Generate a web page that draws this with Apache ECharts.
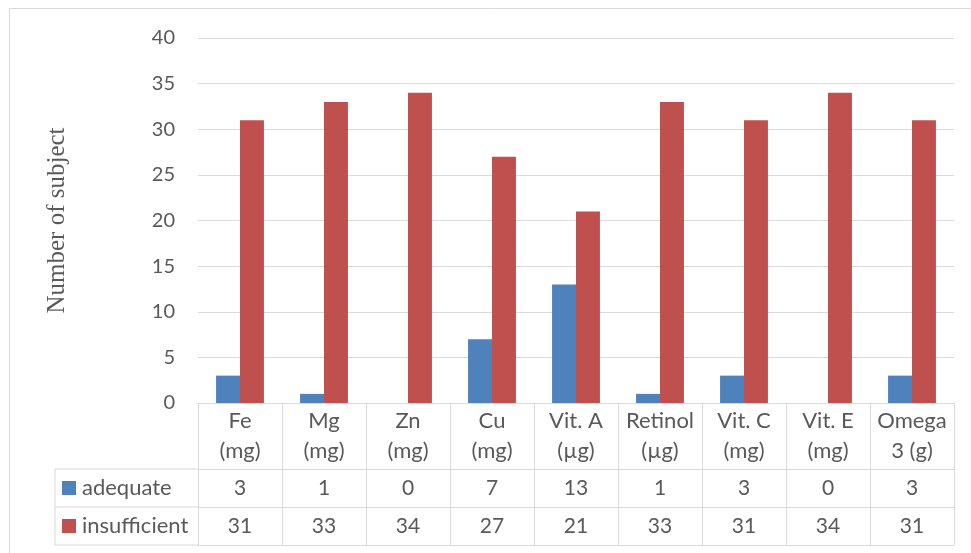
<!DOCTYPE html>
<html>
<head>
<meta charset="utf-8">
<script src="https://cdn.jsdelivr.net/npm/echarts@6/dist/echarts.min.js"></script>
<style>
html,body{margin:0;padding:0;background:#fff;}
#c{width:971px;height:553px;}
</style>
</head>
<body>
<div id="c"></div>
<script>
var categories = ['Fe\n(mg)', 'Mg\n(mg)', 'Zn\n(mg)', 'Cu\n(mg)', 'Vit. A\n(µg)', 'Retinol\n(µg)', 'Vit. C\n(mg)', 'Vit. E\n(mg)', 'Omega\n3 (g)'];
var adequate = [3, 1, 0, 7, 13, 1, 3, 0, 3];
var insufficient = [31, 33, 34, 27, 21, 33, 31, 34, 31];
var seriesNames = ['adequate', 'insufficient'];
var yTicks = { min: 0, max: 40, interval: 5 };
var yTitle = 'Number of subject';

var FONT = 'Lato, "Open Sans", sans-serif';
var TXT = '#595959';
var LINE = '#d9d9d9';
var BLUE = '#4f81bd';
var RED = '#c0504d';

var chart = echarts.init(document.getElementById('c'), null, { renderer: 'canvas' });

function tableAxis(offset, tickLen, labels, margin, showTicks, fs) {
  return {
    type: 'category',
    position: 'bottom',
    offset: offset,
    data: categories,
    axisLine: { show: true, lineStyle: { color: LINE, width: 1 } },
    axisTick: { show: showTicks, interval: 0, length: tickLen, alignWithLabel: false, lineStyle: { color: LINE, width: 1 } },
    axisLabel: labels ? {
      show: true, interval: 0, margin: margin, verticalAlign: 'middle',
      fontFamily: FONT, fontSize: fs, lineHeight: 30, color: TXT,
      formatter: function (v, i) { return labels === 'cat' ? v : String(labels[i]); }
    } : { show: false },
    splitLine: { show: false }
  };
}

var option = {
  backgroundColor: '#fff',
  animation: false,
  grid: { left: 198, right: 17, top: 38, bottom: 150, containLabel: false },
  legend: {
    orient: 'vertical',
    left: 62, top: 477, padding: 0,
    itemWidth: 14, itemHeight: 14, itemGap: 16,
    icon: 'rect',
    textStyle: { fontFamily: FONT, fontSize: 22, lineHeight: 22, color: TXT, padding: [0, 0, 0, 1] },
    data: seriesNames
  },
  xAxis: [
    tableAxis(0, 66, 'cat', 33, true, 22),
    tableAxis(66, 38, adequate, 19, true, 21),
    tableAxis(104, 38, insufficient, 19, true, 21),
    tableAxis(142, 0, null, 0, false, 21)
  ],
  yAxis: {
    type: 'value',
    min: yTicks.min, max: yTicks.max, interval: yTicks.interval,
    name: yTitle, nameLocation: 'middle', nameGap: 128, nameRotate: 90,
    nameTextStyle: { fontFamily: '"Liberation Serif", "DejaVu Serif", serif', fontSize: 25, color: TXT },
    axisLine: { show: false }, axisTick: { show: false },
    axisLabel: { margin: 23, fontFamily: FONT, fontSize: 20, color: TXT },
    splitLine: { lineStyle: { color: LINE, width: 1 } }
  },
  series: [
    { name: seriesNames[0], type: 'bar', data: adequate, itemStyle: { color: BLUE }, barGap: '0%', barCategoryGap: '43%' },
    { name: seriesNames[1], type: 'bar', data: insufficient, itemStyle: { color: RED }, barGap: '0%', barCategoryGap: '43%' }
  ],
  graphic: [
    { type: 'line', shape: { x1: 9.5, y1: 8.5, x2: 971, y2: 8.5 }, style: { stroke: LINE, lineWidth: 1 } },
    { type: 'line', shape: { x1: 9.5, y1: 8.5, x2: 9.5, y2: 553 }, style: { stroke: LINE, lineWidth: 1 } },
    { type: 'line', shape: { x1: 55, y1: 469, x2: 198, y2: 469 }, style: { stroke: LINE, lineWidth: 1 } },
    { type: 'line', shape: { x1: 55, y1: 507, x2: 198, y2: 507 }, style: { stroke: LINE, lineWidth: 1 } },
    { type: 'line', shape: { x1: 55, y1: 545, x2: 198, y2: 545 }, style: { stroke: LINE, lineWidth: 1 } },
    { type: 'line', shape: { x1: 55, y1: 469, x2: 55, y2: 545 }, style: { stroke: LINE, lineWidth: 1 } }
  ]
};
chart.setOption(option);
</script>
</body>
</html>
